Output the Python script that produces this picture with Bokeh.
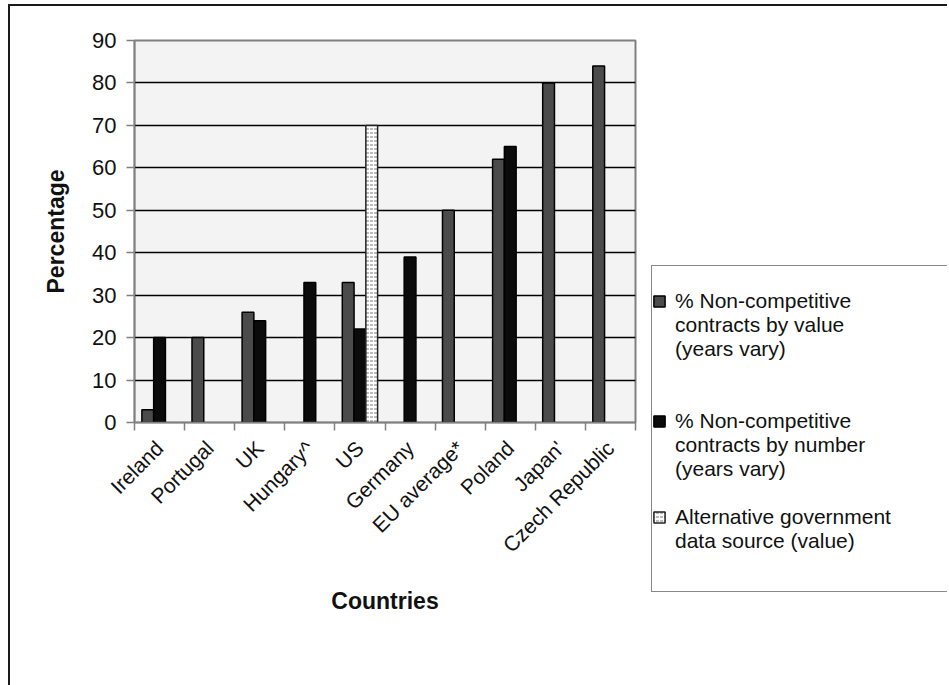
from math import pi

from bokeh.plotting import figure
from bokeh.layouts import row
from bokeh.models import (ColumnDataSource, FixedTicker, Legend, LegendItem,
                          Range1d)
from bokeh.embed import file_html
from bokeh.resources import INLINE

# ---- data -------------------------------------------------------------
countries = ["Ireland", "Portugal", "UK", "Hungary^", "US", "Germany",
             "EU average*", "Poland", "Japan'", "Czech Republic"]
pct_by_value = [3, 20, 26, None, 33, None, 50, 62, 80, 84]
pct_by_number = [20, None, 24, 33, 22, 39, None, 65, None, None]
pct_alt_source = [None, None, None, None, 70, None, None, None, None, None]
y_ticks = [0, 10, 20, 30, 40, 50, 60, 70, 80, 90]

series_lines = [["% Non-competitive", "contracts by value", "(years vary)"],
                ["% Non-competitive", "contracts by number", "(years vary)"],
                ["Alternative government", "data source (value)"]]

FONT = "Liberation Sans"
BAR_W = 0.235

# bar styles, shared by the chart and the legend swatches
STYLE_VALUE = dict(fill_color="#4b4b4b", line_color="black", line_width=1.5)
STYLE_NUMBER = dict(fill_color="#0b0b0b", line_color="black", line_width=1.5)
STYLE_ALT = dict(fill_color="white", line_color="#222222", line_width=1.5,
                 hatch_pattern="horizontal_dash", hatch_color="#777777",
                 hatch_scale=4, hatch_weight=1)


def bar_source(values, offset):
    xs, tops = [], []
    for i, v in enumerate(values):
        if v is not None:
            xs.append(i + 0.5 + offset)
            tops.append(v)
    return ColumnDataSource(dict(x=xs, top=tops))


# ---- main chart ---------------------------------------------------------
p = figure(width=641, height=679, output_backend="svg", toolbar_location=None,
           x_range=Range1d(0, len(countries)), y_range=Range1d(0, 90),
           min_border_left=124, min_border_right=16,
           min_border_top=34, min_border_bottom=263)
p.frame_align = False

p.background_fill_color = "#f3f3f3"
p.border_fill_color = "white"
p.outline_line_color = "#808080"
p.outline_line_width = 2

p.xgrid.visible = False
p.ygrid.ticker = FixedTicker(ticks=y_ticks)
p.ygrid.grid_line_color = "black"
p.ygrid.grid_line_width = 1.4

p.vbar(x="x", top="top", width=BAR_W, bottom=0,
       source=bar_source(pct_by_value, -BAR_W), **STYLE_VALUE)
p.vbar(x="x", top="top", width=BAR_W, bottom=0,
       source=bar_source(pct_by_number, 0.0), **STYLE_NUMBER)
p.vbar(x="x", top="top", width=BAR_W, bottom=0,
       source=bar_source(pct_alt_source, BAR_W), **STYLE_ALT)

# y axis
yax = p.yaxis[0]
yax.ticker = FixedTicker(ticks=y_ticks, minor_ticks=[])
yax.axis_line_color = "#808080"
yax.axis_line_width = 1.5
yax.major_tick_line_color = "#808080"
yax.major_tick_line_width = 1.5
yax.major_tick_in = 0
yax.major_tick_out = 8
yax.minor_tick_line_color = None
yax.major_label_text_font = FONT
yax.major_label_text_font_size = "22px"
yax.major_label_text_color = "#111111"
yax.major_label_standoff = 10
yax.axis_label = "Percentage"
yax.axis_label_text_font = FONT
yax.axis_label_text_font_size = "23px"
yax.axis_label_text_font_style = "bold"
yax.axis_label_text_color = "#111111"
yax.axis_label_standoff = 20

# x axis: labels at category centres, ticks at category boundaries
xax = p.xaxis[0]
centres = [i + 0.5 for i in range(len(countries))]
xax.ticker = FixedTicker(ticks=centres,
                         minor_ticks=list(range(len(countries) + 1)))
xax.major_label_overrides = {c: name for c, name in zip(centres, countries)}
xax.major_tick_line_color = None
xax.minor_tick_line_color = "#808080"
xax.minor_tick_line_width = 1.5
xax.minor_tick_in = 0
xax.minor_tick_out = 8
xax.axis_line_color = "#808080"
xax.axis_line_width = 1.5
xax.major_label_orientation = pi / 4
xax.major_label_text_font = FONT
xax.major_label_text_font_size = "21px"
xax.major_label_text_color = "#111111"
xax.major_label_standoff = 14
xax.axis_label = "Countries"
xax.axis_label_text_font = FONT
xax.axis_label_text_font_size = "23px"
xax.axis_label_text_font_style = "bold"
xax.axis_label_text_color = "#111111"
xax.axis_label_standoff = 20

# ---- legend box: open on the right, where it runs off the page -----------
lg = figure(width=296, height=327, output_backend="svg", toolbar_location=None,
            x_range=Range1d(0, 1), y_range=Range1d(0, 1),
            min_border=0, min_border_left=0, min_border_right=0,
            min_border_top=0, min_border_bottom=0,
            x_axis_location=None, y_axis_location=None)
lg.frame_align = False
lg.margin = (259, 0, 0, 0)
lg.styles = {"border-top": "1.5px solid #888888",
             "border-left": "1.5px solid #888888",
             "border-bottom": "1.5px solid #888888"}
lg.grid.visible = False
lg.outline_line_color = None
lg.background_fill_color = "white"
lg.border_fill_color = "white"

# swatch renderers hold one point outside the visible range
sw_value = lg.vbar(x=[5], top=[1], width=0.1, **STYLE_VALUE)
sw_number = lg.vbar(x=[5], top=[1], width=0.1, **STYLE_NUMBER)
sw_alt = lg.vbar(x=[5], top=[1], width=0.1, **STYLE_ALT)
sw_blank = lg.vbar(x=[5], top=[1], width=0.1, fill_alpha=0, line_alpha=0)

# one row per text line, swatch on the first line of each entry
gaps_after = [2, 1, 0]
items = []
for swatch, lines, gap in zip([sw_value, sw_number, sw_alt], series_lines,
                              gaps_after):
    items.append(LegendItem(label=lines[0], renderers=[swatch]))
    for extra in lines[1:]:
        items.append(LegendItem(label=extra, renderers=[sw_blank]))
    for _ in range(gap):
        items.append(LegendItem(label=" ", renderers=[sw_blank]))

legend = Legend(items=items, location=(0, 40), orientation="vertical",
                border_line_color=None,
                background_fill_color="white", background_fill_alpha=1,
                label_text_font=FONT, label_text_font_size="21px",
                label_text_color="#111111", label_height=24,
                glyph_width=14, glyph_height=14, label_standoff=9,
                padding=8, spacing=0, margin=0)
lg.add_layout(legend, "center")

layout = row(p, lg, spacing=0)
# page frame: top and left edges only
layout.styles = {"margin-left": "8px", "margin-top": "4px",
                 "border-left": "2px solid #1a1a1a",
                 "border-top": "2px solid #1a1a1a"}

open("out.html", "w").write(file_html(layout, INLINE))
